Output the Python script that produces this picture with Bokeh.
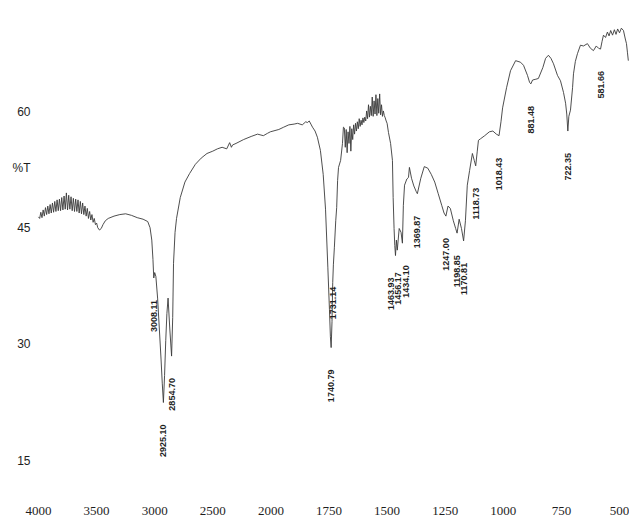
import numpy as np
from bokeh.plotting import figure
from bokeh.models import FixedTicker, ColumnDataSource, Range1d
from bokeh.embed import file_html
from bokeh.resources import INLINE
from bokeh.core.properties import value

# ---------------- data ----------------
wavenumber = [
    4000, 3990, 3980, 3970, 3960, 3950, 3940, 3930, 3920, 3910, 3900, 3890, 3880, 3870,
    3860, 3850, 3840, 3830, 3820, 3810, 3800, 3790, 3780, 3770, 3760, 3750, 3740, 3730,
    3720, 3710, 3700, 3690, 3680, 3670, 3660, 3650, 3640, 3630, 3620, 3610, 3600, 3590,
    3580, 3570, 3560, 3550, 3540, 3530, 3520, 3510, 3500, 3490, 3475, 3460, 3445, 3425,
    3400, 3350, 3300, 3250, 3200, 3150, 3100, 3060, 3040, 3025, 3015, 3008.11, 3000, 2990,
    2975, 2960, 2945, 2935, 2925.10, 2915, 2905, 2895, 2885, 2870, 2854.70, 2845, 2838, 2825,
    2812, 2780, 2740, 2700, 2650, 2600, 2550, 2500, 2460, 2420, 2380, 2355, 2340, 2330,
    2300, 2235, 2170, 2115, 2065, 2030, 2005, 1966, 1945, 1923, 1900, 1885, 1865, 1850,
    1843, 1835, 1828, 1821, 1810, 1800, 1787, 1775, 1765, 1755, 1748, 1744, 1740.79, 1737,
    1734, 1731.14, 1727, 1721, 1717, 1713, 1709, 1700, 1692, 1688, 1684, 1680, 1676, 1672,
    1668, 1664, 1660, 1656, 1652, 1648, 1644, 1640, 1636, 1632, 1628, 1624, 1620, 1616,
    1612, 1608, 1604, 1600, 1596, 1592, 1588, 1584, 1580, 1576, 1572, 1568, 1564, 1560,
    1556, 1552, 1548, 1544, 1540, 1536, 1532, 1528, 1524, 1520, 1516, 1512, 1508, 1504,
    1500, 1494, 1485, 1477, 1474, 1470, 1467, 1463.93, 1460, 1456.17, 1448, 1440, 1434.10, 1430,
    1425, 1415, 1408, 1404, 1395, 1385, 1375, 1369.87, 1355, 1340, 1325, 1310, 1295, 1280,
    1265, 1255, 1247.00, 1238, 1228, 1215, 1205, 1198.85, 1190, 1180, 1170.81, 1163, 1155, 1145,
    1133, 1125, 1118.73, 1112, 1107, 1098, 1080, 1060, 1045, 1030, 1018.43, 1010, 1003, 986,
    969, 947, 926, 913, 896, 887, 881.48, 874, 860, 849, 830, 818, 806, 795,
    784, 767, 754, 741, 732, 727, 722.35, 718, 711, 702, 698, 690, 681, 668,
    655, 638, 625, 612, 600, 590, 581.66, 575, 569, 560, 552, 545, 538, 530,
    522, 515, 508, 500, 492, 483, 475, 470, 466, 462,
]
transmittance = [
    46.5, 46.3, 47.1, 46.4, 47.4, 46.6, 47.7, 46.8, 47.9, 46.9, 48.1, 47.0, 48.3, 47.1,
    48.5, 47.2, 48.7, 47.3, 48.8, 47.3, 49.0, 47.4, 49.2, 47.5, 49.6, 47.4, 49.3, 47.5,
    49.1, 47.3, 48.9, 47.2, 48.8, 47.2, 48.7, 47.0, 48.5, 46.9, 48.3, 46.8, 47.9, 46.6,
    47.6, 46.3, 47.2, 46.1, 46.8, 45.8, 46.3, 45.5, 45.7, 45.1, 44.8, 45.0, 45.5, 46.0,
    46.3, 46.6, 46.8, 46.9, 46.7, 46.4, 46.2, 45.9, 45.1, 43.5, 41.0, 38.6, 39.3, 38.8,
    36.0, 32.0, 28.0, 25.0, 22.5, 26.0, 30.5, 34.0, 36.0, 32.0, 28.5, 33.5, 40.5, 44.5,
    46.3, 49.0, 51.0, 52.1, 53.3, 54.1, 54.7, 55.0, 55.3, 55.5, 55.3, 56.1, 55.5, 55.8,
    56.0, 56.5, 56.9, 57.2, 57.0, 57.3, 57.5, 57.8, 58.1, 58.4, 58.5, 58.6, 58.4, 58.8,
    58.7, 58.9, 58.5, 58.1, 57.6, 56.8, 55.1, 52.0, 47.5, 40.0, 34.5, 31.0, 29.6, 33.0,
    38.0, 40.3, 42.5, 46.0, 47.7, 51.2, 52.9, 53.8, 56.0, 58.1, 58.0, 55.5, 57.8, 54.8,
    57.5, 56.0, 58.2, 55.0, 57.9, 56.5, 58.4, 57.2, 58.6, 57.6, 58.8, 57.9, 59.2, 58.2,
    59.0, 58.4, 59.3, 58.7, 59.4, 58.9, 60.2, 59.2, 61.0, 59.4, 60.8, 59.6, 62.0, 59.5,
    61.5, 59.8, 62.3, 59.6, 61.8, 59.9, 62.4, 59.7, 61.0, 59.5, 60.2, 59.6, 59.3, 58.9,
    58.6, 57.4, 56.0, 53.8, 49.0, 45.0, 42.8, 41.5, 43.5, 42.2, 45.0, 44.5, 43.1, 48.0,
    50.6, 51.4, 51.6, 52.9, 51.5, 50.5, 49.8, 49.5, 51.5, 53.0, 52.8, 52.0, 51.0, 49.5,
    48.0, 47.0, 46.6, 47.9, 47.6, 46.0, 45.0, 44.4, 46.2, 45.0, 43.4, 46.0, 50.6, 52.5,
    54.7, 53.8, 53.1, 55.0, 56.4, 56.6, 57.0, 57.5, 57.6, 57.2, 57.0, 58.8, 60.6, 63.2,
    65.4, 66.7, 66.5, 66.1, 64.8, 63.9, 63.7, 64.2, 64.3, 64.4, 65.8, 67.0, 67.4, 67.0,
    66.3, 64.8, 64.1, 62.6, 61.2, 59.8, 57.6, 59.5, 60.3, 63.2, 65.0, 66.6, 67.6, 68.7,
    68.6, 68.9, 68.3, 68.0, 68.6, 68.3, 68.2, 69.2, 70.0, 69.7, 70.4, 69.9, 70.6, 70.0,
    70.7, 70.1, 70.8, 70.3, 70.9, 70.6, 69.5, 68.9, 67.8, 66.7,
]
peak_labels = ["3008.11", "2925.10", "2854.70", "1740.79", "1731.14", "1463.93",
               "1456.17", "1434.10", "1369.87", "1247.00", "1198.85", "1170.81",
               "1118.73", "1018.43", "881.48", "722.35", "581.66"]
x_tick_labels = ["4000", "3500", "3000", "2500", "2000", "1750", "1500",
                 "1250", "1000", "750", "500"]
y_ticks = [15, 30, 45, 60]
y_title = "%T"
y_title_at = 52.8   # height (in %T) where the axis title is printed, as in the scan


def axis_pos(w):
    """Piecewise FTIR abscissa: 500 cm-1 per unit above 2000, 250 cm-1 per unit below."""
    w = np.asarray(w, dtype=float)
    return np.where(w >= 2000, (4000.0 - w) / 500.0, 4.0 + (2000.0 - w) / 250.0)


W, H = 629, 521
LEFT, BOTTOM = 36, 19
x0, x1 = -0.0344, 10.172
y0, y1 = 9.57, 74.48
px_u = (W - LEFT) / (x1 - x0)
px_t = (H - BOTTOM) / (y1 - y0)

p = figure(width=W, height=H, x_range=Range1d(x0, x1), y_range=Range1d(y0, y1),
           output_backend="svg", toolbar_location=None,
           min_border_left=LEFT, min_border_right=0, min_border_top=0,
           min_border_bottom=BOTTOM)
p.outline_line_color = None
p.grid.visible = False
p.background_fill_color = "white"

xt = [int(round(v)) for v in axis_pos([int(s) for s in x_tick_labels])]
p.xaxis.ticker = FixedTicker(ticks=xt)
p.xaxis.major_label_overrides = {t: s for t, s in zip(xt, x_tick_labels)}
p.yaxis.ticker = FixedTicker(ticks=y_ticks + [y_title_at])
p.yaxis.major_label_overrides = {y_title_at: y_title}
for ax in (p.xaxis, p.yaxis):
    ax.axis_line_color = None
    ax.major_tick_line_color = None
    ax.minor_tick_line_color = None
    ax.major_tick_out = 0
    ax.major_tick_in = 0
    ax.minor_tick_out = 0
    ax.minor_tick_in = 0
    ax.major_label_text_color = "#1e1e1e"
p.xaxis.major_label_text_font = "Liberation Sans Narrow"
p.xaxis.major_label_text_font_size = "13px"
p.xaxis.major_label_standoff = 4
p.yaxis.major_label_text_font = "Liberation Sans"
p.yaxis.major_label_text_font_size = "12px"
p.yaxis.major_label_standoff = 6

xs = axis_pos(wavenumber)
p.line(xs, transmittance, line_color="#3a3a3a", line_width=0.9)

# peak labels: anchored under each peak minimum, rotated 90 degrees
peak_wn = np.array([float(s) for s in peak_labels])
w_arr = np.asarray(wavenumber, float)[::-1]
t_arr = np.asarray(transmittance, float)[::-1]
peak_t = np.interp(peak_wn, w_arr, t_arr)
lx = axis_pos(peak_wn) * px_u
ly = (y1 - peak_t) * px_t
# nudge labels apart where they would overlap horizontally and vertically
lab_len, gap = 33.0, 7.5
lx = lx.copy()
for _ in range(60):
    for i in range(len(lx)):
        for j in range(len(lx)):
            if i == j or lx[i] > lx[j]:
                continue
            if abs(ly[i] - ly[j]) < lab_len and lx[j] - lx[i] < gap:
                push = (gap - (lx[j] - lx[i])) / 2.0
                lx[i] -= push
                lx[j] += push
src = ColumnDataSource(dict(x=lx / px_u, y=peak_t, text=peak_labels))
p.text(x="x", y="y", text="text", source=src, angle=np.pi / 2,
       text_align="right", text_baseline="middle", y_offset=22,
       text_font=value("Liberation Sans"), text_font_style="bold",
       text_font_size="9px", text_color="#1e1e1e")

open("out.html", "w").write(file_html(p, INLINE))
